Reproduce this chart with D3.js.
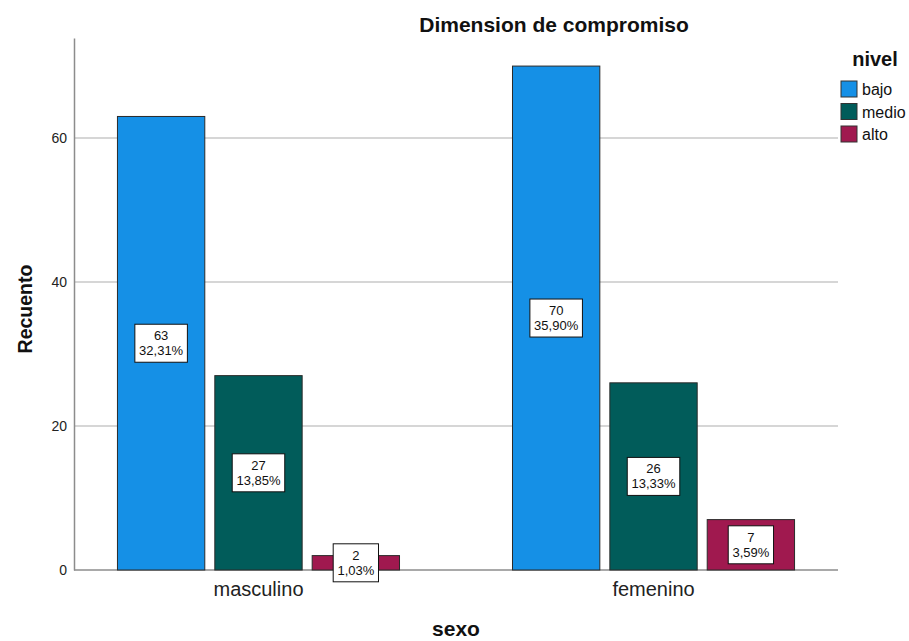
<!DOCTYPE html>
<html>
<head>
<meta charset="utf-8">
<script src="https://cdn.jsdelivr.net/npm/d3@7"></script>
<style>
  body { margin: 0; background: #fff; }
  svg { font-family: "Liberation Sans", Arial, sans-serif; }
</style>
</head>
<body>
<div id="viz"></div>
<script>
"use strict";
(function(){
    // data
    const sexos = ["masculino", "femenino"]
    const niveles = ["bajo", "medio", "alto"]
    const bajo = [63, 70]
    const medio = [27, 26]
    const alto = [2, 7]
    const pctBajo = ["32,31%", "35,90%"]
    const pctMedio = ["13,85%", "13,33%"]
    const pctAlto = ["1,03%", "3,59%"]
    const yTicks = [0, 20, 40, 60]

    const colors = { "bajo": "#1590E6", "medio": "#015C5A", "alto": "#A0194F" }

    const measurements = { width: 909, height: 641, left: 74, right: 838, top: 38, bottom: 570 }

    // build rows
    const series = { "bajo": bajo, "medio": medio, "alto": alto }
    const pcts = { "bajo": pctBajo, "medio": pctMedio, "alto": pctAlto }
    let data = []
    sexos.forEach((s, i) => {
        niveles.forEach((n) => {
            data.push({ sexo: s, nivel: n, value: series[n][i], pct: pcts[n][i] })
        })
    })

    const svg = d3.select('#viz').append("svg")
        .attr('width', measurements.width)
        .attr('height', measurements.height)

    let scaleX = d3.scaleBand()
        .domain(sexos)
        .range([measurements.left, measurements.right])
        .paddingInner(0.286)
        .paddingOuter(0.11)

    let scaleInner = d3.scaleBand()
        .domain(niveles)
        .range([0, scaleX.bandwidth()])
        .paddingInner(0.103)

    let scaleY = d3.scaleLinear()
        .domain([0, 73.9])
        .range([measurements.bottom, measurements.top])

    // gridlines
    svg.append('g')
        .selectAll('line')
        .data(yTicks.filter(d => d > 0))
        .enter()
        .append('line')
            .attr('x1', measurements.left)
            .attr('x2', measurements.right)
            .attr('y1', d => scaleY(d))
            .attr('y2', d => scaleY(d))
            .attr('stroke', '#c8c8c8')
            .attr('stroke-width', 1.5)

    // y axis
    const yAxis = svg.append('g')
        .attr('transform', 'translate(' + measurements.left + ',0)')
        .call(d3.axisLeft(scaleY).tickValues(yTicks).tickSize(0).tickPadding(7))
    yAxis.select('.domain').attr('stroke', '#8c8c8c').attr('stroke-width', 1.5)
    yAxis.selectAll('text').attr('font-size', 14).attr('fill', '#222').attr('font-family', '"Liberation Sans", Arial, sans-serif')

    // x axis
    const xAxis = svg.append('g')
        .attr('transform', 'translate(0,' + measurements.bottom + ')')
        .call(d3.axisBottom(scaleX).tickSize(0).tickPadding(12).tickSizeOuter(0))
    xAxis.select('.domain').attr('stroke', '#8c8c8c').attr('stroke-width', 1.5)
        .attr('d', 'M' + measurements.left + ',0H' + measurements.right)
    xAxis.selectAll('text').attr('font-size', 20).attr('fill', '#222').attr('font-family', '"Liberation Sans", Arial, sans-serif')

    // bars
    const groups = svg.selectAll('.grp')
        .data(data)
        .enter()
        .append('g')
        .attr('transform', d => 'translate(' + (scaleX(d.sexo) + scaleInner(d.nivel)) + ',0)')

    groups.append('rect')
        .attr('x', 0)
        .attr('y', d => scaleY(d.value))
        .attr('width', scaleInner.bandwidth())
        .attr('height', d => scaleY(0) - scaleY(d.value))
        .attr('fill', d => colors[d.nivel])
        .attr('stroke', '#2a2a2a')
        .attr('stroke-width', 1)

    // labels in boxes
    groups.each(function(d) {
        const g = d3.select(this)
        const cx = scaleInner.bandwidth() / 2
        let cy = (scaleY(d.value) + scaleY(0)) / 2
        cy = Math.min(cy, measurements.bottom - 7)
        const lbl = g.append('g').attr('transform', 'translate(' + cx + ',' + cy + ')')
        const box = lbl.append('rect').attr('fill', '#fff').attr('stroke', '#111').attr('stroke-width', 1)
        const t = lbl.append('text')
            .attr('text-anchor', 'middle')
            .attr('font-size', 13)
            .attr('fill', '#111')
        t.append('tspan').attr('x', 0).attr('y', -3).text(d.value)
        t.append('tspan').attr('x', 0).attr('y', 12).text(d.pct)
        const w = t.node().getBBox().width + 8
        box.attr('x', -w / 2).attr('y', -19).attr('width', w).attr('height', 38)
    })

    // title
    svg.append('text')
        .attr('x', 554)
        .attr('y', 32)
        .attr('text-anchor', 'middle')
        .attr('font-size', 21)
        .attr('font-weight', 'bold')
        .attr('fill', '#111')
        .text('Dimension de compromiso')

    svg.append('text')
        .attr('transform', 'translate(32,309) rotate(270)')
        .attr('text-anchor', 'middle')
        .attr('font-size', 19.5)
        .attr('font-weight', 'bold')
        .attr('fill', '#111')
        .text('Recuento')

    svg.append('text')
        .attr('x', 456)
        .attr('y', 636)
        .attr('text-anchor', 'middle')
        .attr('font-size', 21)
        .attr('font-weight', 'bold')
        .attr('fill', '#111')
        .text('sexo')

    // legend
    svg.append('text')
        .attr('x', 875)
        .attr('y', 66)
        .attr('text-anchor', 'middle')
        .attr('font-size', 20)
        .attr('font-weight', 'bold')
        .attr('fill', '#111')
        .text('nivel')

    const legend = svg.selectAll('.legend')
        .data(niveles)
        .enter()
        .append('g')
        .attr('transform', (d, i) => 'translate(841,' + (81 + i * 22.5) + ')')
    legend.append('rect')
        .attr('width', 16)
        .attr('height', 16)
        .attr('fill', d => colors[d])
        .attr('stroke', '#333')
    legend.append('text')
        .attr('x', 21)
        .attr('y', 14)
        .attr('font-size', 16)
        .attr('fill', '#111')
        .text(d => d)
})()
</script>
</body>
</html>
